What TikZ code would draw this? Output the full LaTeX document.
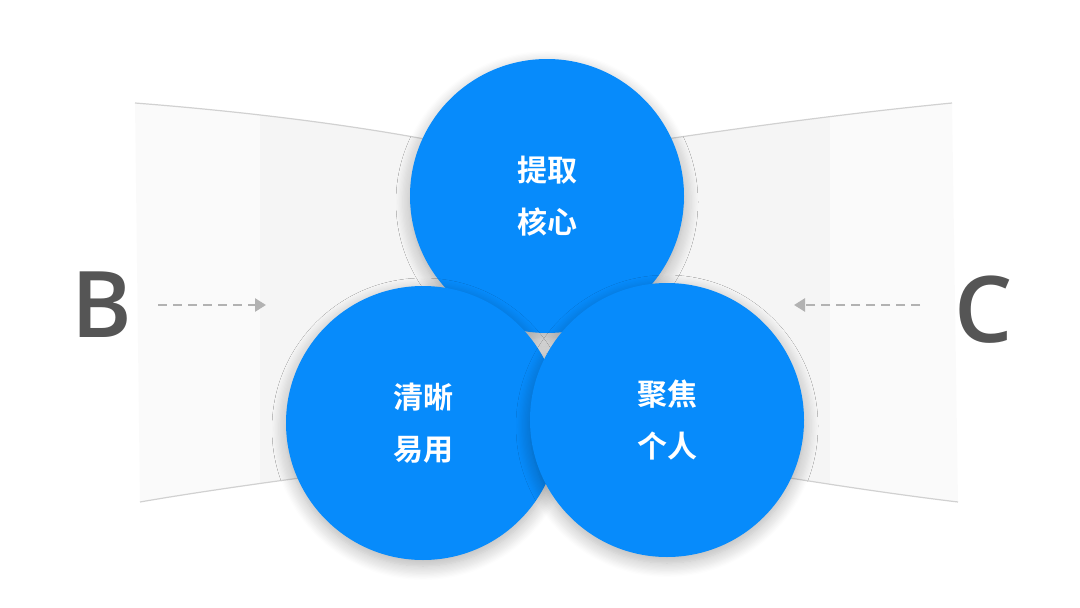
\documentclass[tikz,border=0pt]{standalone}
\usepackage{fontspec}
\newfontfamily\cjk{Noto Sans CJK SC Bold}
\newfontfamily\lat{Open Sans Semibold}
\usetikzlibrary{shadows.blur,arrows.meta}
\definecolor{ball}{HTML}{078BFB}
\definecolor{letter}{HTML}{555555}
\tikzset{
  ball/.style={circle,fill=ball,minimum size=274pt,inner sep=0pt,
    blur shadow={shadow blur steps=12,shadow xshift=0pt,shadow yshift=-6pt,shadow blur radius=14pt,shadow opacity=30},
    text=white,font=\cjk\fontsize{30}{52}\selectfont,align=center},
  curve/.style={draw=black!18,line width=1.2pt},
  darr/.style={draw=black!30,line width=2.5pt,dash pattern=on 9pt off 6pt,-{Triangle[length=11pt,width=13pt]}},
  big/.style={text=letter,font=\lat\fontsize{92}{92}\selectfont}
}
\begin{document}
\begin{tikzpicture}[x=1pt,y=-1pt]
\useasboundingbox (0,0) rectangle (1080,608);
\fill[black!4] (135,103) .. controls (250,112) and (350,125) .. (430,140)
  -- (660,140) .. controls (760,125) and (860,112) .. (952,103)
  -- (958,502) .. controls (900,495) and (840,486) .. (790,478)
  -- (300,478) .. controls (240,486) and (180,495) .. (140,502) -- cycle;
\fill[white,opacity=0.5] (135,103) rectangle (260,502);
\fill[white,opacity=0.5] (830,103) rectangle (958,502);
\draw[curve] (135,103) .. controls (250,112) and (350,125) .. (430,140);
\draw[curve] (660,140) .. controls (760,125) and (860,112) .. (952,103);
\draw[curve] (140,502) .. controls (180,495) and (240,486) .. (300,478);
\draw[curve] (790,478) .. controls (840,486) and (900,495) .. (958,502);
\node[ball] (top) at (547,196) {提取\\核心};
\node[ball] (left) at (423,423) {清晰\\易用};
\node[ball] (right) at (667,420) {聚焦\\个人};
\node[big] (B) at (102,305) {B};
\node[big] (C) at (984,310) {C};
\coordinate (ba) at (158,305); \coordinate (bb) at (266,305);
\coordinate (ca) at (920,305); \coordinate (cb) at (794,305);
\draw[darr] (ba) -- (bb);
\draw[darr] (ca) -- (cb);
\end{tikzpicture}
\end{document}
